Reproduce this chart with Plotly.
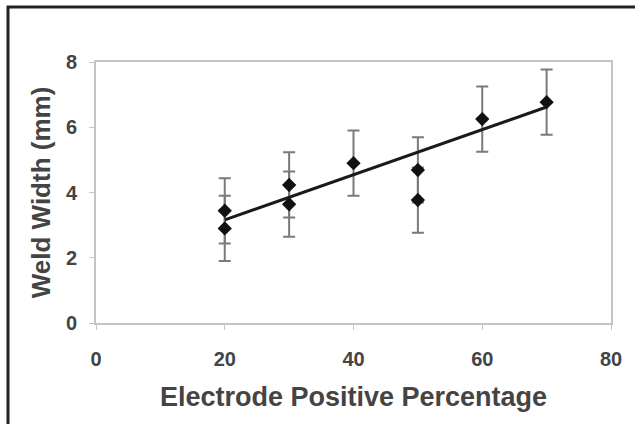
import plotly.graph_objects as go

# Data
electrode_positive = [20, 20, 30, 30, 40, 50, 50, 60, 70]
weld_width = [3.44, 2.90, 4.23, 3.64, 4.90, 4.69, 3.77, 6.25, 6.77]
weld_width_err = [1.0, 1.0, 1.0, 1.0, 1.0, 1.0, 1.0, 1.0, 1.0]

trend_x = [20, 70]
trend_y = [3.16, 6.62]

x_ticks = [0, 20, 40, 60, 80]
y_ticks = [0, 2, 4, 6, 8]

W, H = 635, 424
L, R, T, B = 96, 611, 62, 323

fig = go.Figure()

fig.add_trace(go.Scatter(
    x=electrode_positive, y=weld_width, mode="markers",
    marker=dict(symbol="diamond", size=11, color="#111111"),
    error_y=dict(type="data", array=weld_width_err, visible=True,
                 color="#7a7a7a", thickness=2, width=6),
    showlegend=False, cliponaxis=False,
))
fig.add_trace(go.Scatter(
    x=trend_x, y=trend_y, mode="lines",
    line=dict(color="#1a1a1a", width=3),
    showlegend=False,
))

def px(p):
    return (p - L) / (R - L)

def py(q):
    return (B - q) / (B - T)

# outer frame (only top and left visible in the cropped picture)
fig.add_shape(type="rect", xref="paper", yref="paper",
              x0=px(8), x1=px(660), y0=py(7), y1=py(450),
              line=dict(color="#222222", width=3), layer="above")

font_family = "Liberation Sans, Arial, sans-serif"

fig.update_xaxes(
    range=[0, 80], tickvals=x_ticks, showgrid=False, zeroline=False,
    showline=True, linecolor="#c4c4c4", linewidth=2, mirror=True,
    ticks="outside", ticklen=5, tickcolor="#c4c4c4", tickwidth=1,
    tickfont=dict(family=font_family, size=20, color="#444444", weight="bold"),
    ticklabelstandoff=12,
    title=dict(text="Electrode Positive Percentage", standoff=18,
               font=dict(family=font_family, size=27, color="#444444", weight="bold")),
)
fig.update_yaxes(
    range=[0, 8], tickvals=y_ticks, showgrid=False, zeroline=False,
    showline=True, linecolor="#c4c4c4", linewidth=2, mirror=True,
    ticks="outside", ticklen=5, tickcolor="#c4c4c4", tickwidth=1,
    tickfont=dict(family=font_family, size=20, color="#444444", weight="bold"),
    ticklabelstandoff=8,
    title=dict(text="Weld Width (mm)", standoff=8,
               font=dict(family=font_family, size=26, color="#444444", weight="bold")),
)

fig.update_layout(
    width=W, height=H,
    margin=dict(l=L, r=W - R, t=T, b=H - B, autoexpand=False),
    paper_bgcolor="white", plot_bgcolor="white",
)

fig.write_html("out.html")
